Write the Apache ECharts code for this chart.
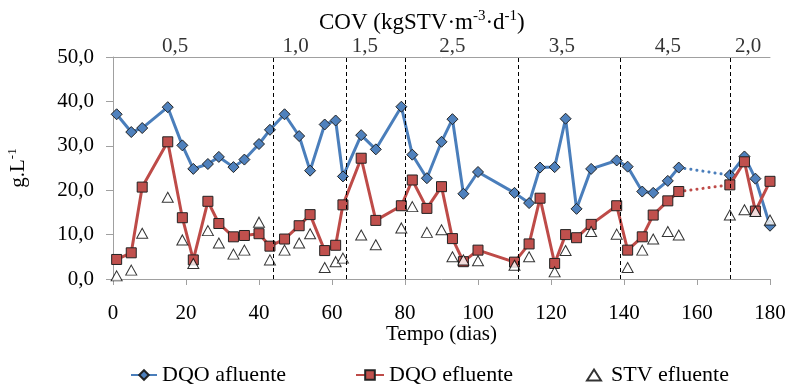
<!DOCTYPE html>
<html>
<head>
<meta charset="utf-8">
<script src="https://cdn.jsdelivr.net/npm/echarts@6/dist/echarts.min.js"></script>
<style>html,body{margin:0;padding:0;background:#fff}#c{width:789px;height:385px}</style>
</head>
<body>
<div id="c"></div>
<script>
const days = [1,5,8,15,19,22,26,29,33,36,40,43,47,51,54,58,61,63,68,72,79,82,86,90,93,96,100,110,114,117,121,124,127,131,138,141,145,148,152,155,169,173,176,180];
const dqoAfluente = [37.1,33.1,34.0,38.7,30.1,24.8,25.9,27.5,25.2,26.9,30.4,33.6,37.1,32.2,24.4,34.8,35.7,23.1,32.4,29.2,38.8,28.0,22.7,30.9,36.0,19.2,24.1,19.4,17.1,25.1,25.2,36.1,15.8,24.8,26.7,25.3,19.7,19.4,22.1,25.1,23.4,27.6,22.6,12.0];
const dqoEfluente = [4.4,5.9,20.7,30.9,13.8,4.3,17.5,12.5,9.5,9.8,10.2,7.4,9.0,12.0,14.5,6.4,7.6,16.7,27.2,13.2,16.5,22.3,15.9,20.8,9.1,3.9,6.5,3.8,7.9,18.2,3.5,10.0,9.3,12.3,16.5,6.5,9.5,14.4,17.6,19.7,21.2,26.4,15.3,22.0];
const stvEfluente = [0.7,2.0,10.3,18.4,8.8,3.5,10.9,8.1,5.6,6.5,12.8,4.3,6.5,8.1,10.2,2.6,3.9,4.7,9.9,7.7,11.5,16.3,10.5,11.1,5.0,4.3,4.1,3.1,5.0,null,1.6,6.4,null,10.7,10.1,2.6,6.5,9.0,10.7,9.9,14.4,15.6,15.2,13.3];
const gapIndex = 39; // no samples between days[39] and days[40] (dotted link)
const phaseBounds = [44, 64, 80, 111, 139, 169];
const covDays = [17, 50, 69, 93, 123, 152, 174];
const covLabels = ['0,5','1,0','1,5','2,5','3,5','4,5','2,0'];
const yMax = 50;

const FONT = 'Liberation Serif';
const FS = 21;
const pairs = (vals, a, b) => days.slice(a, b).map((d, i) => [d, vals[a + i]]);

const blueLine = '#4A7EBB', blueFill = '#4F81BD';
const redLine = '#BE4B48', redFill = '#C0504D';

function seg(name, vals, a, b, lc, fc, sym) {
  return {
    name: name, type: 'line', data: pairs(vals, a, b),
    symbol: sym, symbolSize: sym === 'diamond' ? 11 : 10,
    lineStyle: { color: lc, width: 3 },
    itemStyle: { color: fc, borderColor: '#222', borderWidth: 1 },
    z: name === 'DQO efluente' ? 3 : 2, animation: false
  };
}
function dotted(name, vals, lc) {
  return {
    name: name, type: 'line', data: pairs(vals, gapIndex, gapIndex + 2),
    symbol: 'none', showSymbol: false,
    lineStyle: { color: lc, width: 3, type: [0.1, 6], cap: 'round' },
    z: 1, animation: false, silent: true
  };
}

const stvData = days.map((d, i) => [d, stvEfluente[i]]).filter(p => p[1] !== null);
const sup = { fontFamily: FONT, fontSize: 13, verticalAlign: 'top', padding: [0,0,11,0], color: '#000' };
const supT = { fontFamily: FONT, fontSize: 15, verticalAlign: 'top', padding: [0,0,12,0], color: '#000' };

const chart = echarts.init(document.getElementById('c'), null, { renderer: 'canvas' });
chart.setOption({
  animation: false,
  backgroundColor: '#fff',
  textStyle: { fontFamily: FONT, color: '#000' },
  title: {
    text: 'COV (kgSTV·m{s|-3}·d{s|-1})',
    left: 319, top: 9, padding: 0,
    textStyle: {
      fontFamily: FONT, fontSize: 23, fontWeight: 'normal', color: '#000',
      rich: { s: supT }
    }
  },
  grid: { left: 113, right: 19, top: 57, bottom: 106, containLabel: false, outerBoundsMode: 'none' },
  xAxis: [{
    type: 'value', min: 0, max: 180, interval: 20,
    name: 'Tempo (dias)', nameLocation: 'middle', nameGap: 45, nameMoveOverlap: false,
    nameTextStyle: { fontFamily: FONT, fontSize: FS, color: '#000' },
    axisLine: { show: true, lineStyle: { color: '#a0a0a0', width: 1 } },
    axisTick: { show: true, inside: false, length: 6, lineStyle: { color: '#a0a0a0' } },
    axisLabel: { fontFamily: FONT, fontSize: FS, color: '#000', margin: 24 },
    splitLine: { show: false }
  }, {
    type: 'value', min: 0, max: 180, position: 'top',
    axisLine: { show: true, onZero: false, lineStyle: { color: '#a0a0a0', width: 1 } },
    axisTick: { show: false }, axisLabel: { show: false }, splitLine: { show: false }
  }],
  yAxis: {
    type: 'value', min: 0, max: yMax, interval: 10,
    name: 'g.L{s|-1}', nameLocation: 'middle', nameGap: 83, nameRotate: 90, nameMoveOverlap: false,
    nameTextStyle: {
      fontFamily: FONT, fontSize: FS, color: '#000',
      rich: { s: sup }
    },
    axisLine: { show: true, lineStyle: { color: '#a0a0a0', width: 1 } },
    axisTick: { show: true, inside: false, length: 7, lineStyle: { color: '#a0a0a0' } },
    axisLabel: { fontFamily: FONT, fontSize: FS, color: '#000', margin: 19,
      formatter: v => v.toFixed(1).replace('.', ',') },
    splitLine: { show: false }
  },
  legend: [
    { data: ['DQO afluente'], left: 130, top: 364, padding: 0, itemWidth: 26, itemHeight: 12, itemGap: 0,
      textStyle: { fontFamily: FONT, fontSize: 22, color: '#000' } },
    { data: ['DQO efluente'], left: 355, top: 364, padding: 0, itemWidth: 28, itemHeight: 12, itemGap: 0,
      textStyle: { fontFamily: FONT, fontSize: 22, color: '#000' } },
    { data: ['STV efluente'], left: 586, top: 364, padding: 0, itemWidth: 14, itemHeight: 11, itemGap: 0,
      textStyle: { fontFamily: FONT, fontSize: 22, color: '#000', padding: [0,0,0,5] } }
  ],
  series: [
    dotted('DQO afluente (sem coleta)', dqoAfluente, blueLine),
    dotted('DQO efluente (sem coleta)', dqoEfluente, redLine),
    seg('DQO afluente', dqoAfluente, 0, gapIndex + 1, blueLine, blueFill, 'diamond'),
    seg('DQO afluente', dqoAfluente, gapIndex + 1, days.length, blueLine, blueFill, 'diamond'),
    seg('DQO efluente', dqoEfluente, 0, gapIndex + 1, redLine, redFill, 'rect'),
    seg('DQO efluente', dqoEfluente, gapIndex + 1, days.length, redLine, redFill, 'rect'),
    {
      name: 'STV efluente', type: 'scatter', data: stvData,
      symbol: 'triangle', symbolSize: [11, 10],
      itemStyle: { color: '#fff', borderColor: '#000', borderWidth: 1 },
      z: 4, animation: false
    },
    {
      name: 'COV', type: 'scatter', silent: true,
      data: covDays.map((d, i) => ({ value: [d, yMax], label: { formatter: covLabels[i] } })),
      symbolSize: 0.01, clip: false,
      label: { show: true, position: 'top', distance: 0, fontFamily: FONT, fontSize: FS, color: '#000' },
      markLine: {
        silent: true, symbol: 'none', animation: false,
        label: { show: false },
        lineStyle: { color: '#000', width: 1, type: [4, 3] },
        data: phaseBounds.map(x => ({ xAxis: x }))
      },
      z: 5
    }
  ]
});
</script>
</body>
</html>
